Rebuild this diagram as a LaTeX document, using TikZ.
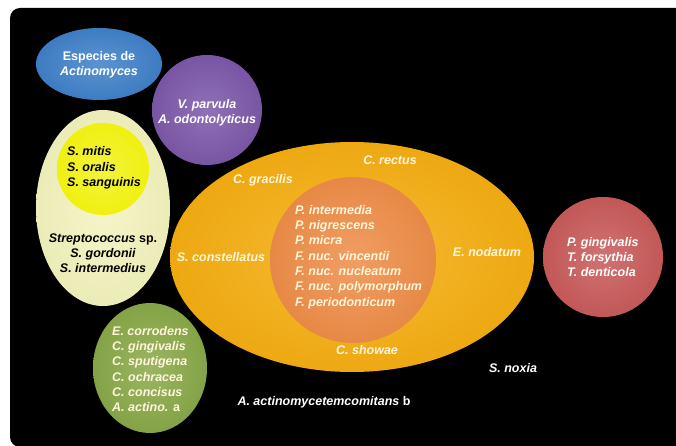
\documentclass[tikz,border=0pt]{standalone}
\usepackage{fontspec}
\setmainfont{Liberation Sans}

% fill colours of the groups
\definecolor{bluebase}{HTML}{3F80C8}
\definecolor{purplebase}{HTML}{7C58A8}
\definecolor{creambase}{HTML}{F3F3BE}
\definecolor{yellowbase}{HTML}{F0F010}
\definecolor{orangebase}{HTML}{F5AE12}
\definecolor{salmonbase}{HTML}{EE8D48}
\definecolor{redbase}{HTML}{C85A5A}
\definecolor{greenbase}{HTML}{88A848}
\definecolor{paletext}{HTML}{FFF6DC}

\begin{document}
\begin{tikzpicture}[x=1pt,y=-1pt,
  lbl/.style={font=\fontsize{12.5}{15.3}\selectfont\bfseries\itshape,
    text=white, inner sep=0pt},
  blob/.style={inner color=#1!85!white, outer color=#1!97!black}]

% Frame
\useasboundingbox (0,0) rectangle (676,446);
\fill[white] (0,0) rectangle (676,446);
\fill[black, rounded corners=10pt] (10,8) rectangle (700,447);

% Early colonisers
\shade[blob=creambase] (103,208) ellipse (67pt and 98pt);
\shade[inner color=yellowbase!80!white, outer color=yellowbase] (103,169) circle (46pt);
\shade[blob=bluebase] (99,64) ellipse (63pt and 36pt);
\shade[blob=purplebase] (207,110) circle (55pt);
\shade[blob=greenbase] (150,368) ellipse (57pt and 65pt);

% Orange complex and its core
\shade[blob=orangebase] (352,257) ellipse (182pt and 115pt);
\shade[blob=salmonbase] (353,260) circle (83pt);

% Red complex
\shade[blob=redbase] (603,257) circle (60pt);

% Labels
\node[lbl, align=center] (actino) at (99,65)
  {\upshape Especies de\\Actinomyces};
\node[lbl, align=center] (veillo) at (207,113)
  {V. parvula\\A. odontolyticus};
\node[lbl, align=left, text=black, anchor=west] (mitis) at (67,168)
  {S. mitis\\S. oralis\\S. sanguinis};
\node[lbl, align=center, text=black] (strepto) at (103,253)
  {Streptococcus {\upshape sp.}\\S. gordonii\\S. intermedius};
\node[lbl, align=left, text=paletext, anchor=west] (capno) at (112,369)
  {E. corrodens\\C. gingivalis\\C. sputigena\\C. ochracea\\C. concisus\\A. actino. {\upshape a}};

\node[lbl, text=paletext] (gracilis) at (263,180) {C. gracilis};
\node[lbl, text=paletext] (rectus) at (390,160) {C. rectus};
\node[lbl, text=paletext] (constell) at (221,257) {S. constellatus};
\node[lbl, text=paletext] (nodatum) at (487,252) {E. nodatum};
\node[lbl, text=paletext] (showae) at (367,350) {C. showae};
\node[lbl, align=left, text=paletext, anchor=west] (fuso) at (295,257)
  {P. intermedia\\P. nigrescens\\P. micra\\F. nuc. vincentii\\F. nuc. nucleatum\\F. nuc. polymorphum\\F. periodonticum};

\node[lbl, align=left, anchor=west] (redc) at (567,257)
  {P. gingivalis\\T. forsythia\\T. denticola};

\node[lbl] (noxia) at (513,368) {S. noxia};
\node[lbl] (aggr) at (324,402) {A. actinomycetemcomitans {\upshape b}};

\end{tikzpicture}
\end{document}
